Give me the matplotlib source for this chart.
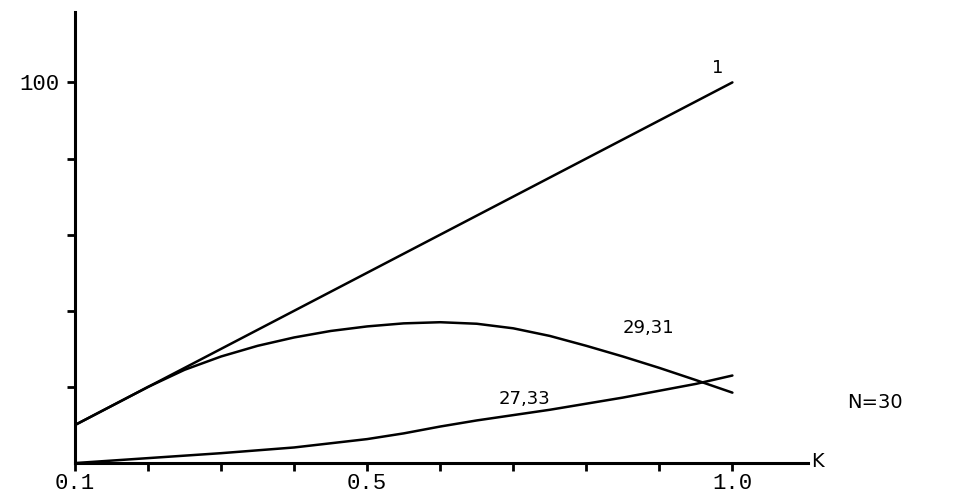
import matplotlib
matplotlib.use("Agg")
import matplotlib.pyplot as plt

# values
k_line1 = [0.1, 1.0]
v_line1 = [10, 100]

k_2931 = [0.1, 0.15, 0.2, 0.25, 0.3, 0.35, 0.4, 0.45, 0.5, 0.55, 0.6, 0.65, 0.7, 0.75, 0.8, 0.85, 0.9, 0.95, 1.0]
v_2931 = [10, 15, 20, 24.5, 28.0, 30.8, 33.0, 34.7, 35.9, 36.7, 37.0, 36.6, 35.4, 33.4, 30.8, 28.0, 25.0, 21.8, 18.5]

k_2733 = [0.1, 0.2, 0.3, 0.4, 0.5, 0.55, 0.6, 0.65, 0.7, 0.75, 0.8, 0.85, 0.9, 0.95, 1.0]
v_2733 = [0, 1.3, 2.6, 4.1, 6.3, 7.8, 9.6, 11.2, 12.6, 14.0, 15.6, 17.2, 19.0, 20.8, 23.0]

ytick_pos = [20, 40, 60, 80, 100]
ytick_lab = ["", "", "", "", "100"]
xtick_pos = [0.1, 0.2, 0.3, 0.4, 0.5, 0.6, 0.7, 0.8, 0.9, 1.0]
xtick_lab = ["0.1", "", "", "", "0.5", "", "", "", "", "1.0"]

mono = "Liberation Mono"
hand = "DejaVu Sans"

fig = plt.figure(figsize=(9.64, 4.99), dpi=100)
ax = fig.add_axes([0.0778, 0.072, 0.76, 0.904])

lw = 1.8
ax.plot(k_line1, v_line1, color="black", lw=lw, solid_capstyle="round")
ax.plot(k_2931, v_2931, color="black", lw=lw, solid_capstyle="round")
ax.plot(k_2733, v_2733, color="black", lw=lw, solid_capstyle="round")

ax.set_xlim(0.1, 1.103)
ax.set_ylim(0, 118.5)

for s in ["top", "right"]:
    ax.spines[s].set_visible(False)
for s in ["left", "bottom"]:
    ax.spines[s].set_linewidth(2.2)

ax.set_yticks(ytick_pos)
ax.set_yticklabels(ytick_lab, fontfamily=mono, fontsize=16)
ax.set_xticks(xtick_pos)
ax.set_xticklabels(xtick_lab, fontfamily=mono, fontsize=16)
ax.tick_params(axis="both", direction="out", length=6, width=2)
ax.tick_params(axis="y", pad=5)
ax.tick_params(axis="x", pad=1)

# curve labels
ax.text(0.98, 101.5, "1", fontsize=13, family=hand, ha="center", va="bottom")
ax.text(0.885, 35.5, "29,31", fontsize=13, family=hand, ha="center", va="center")
ax.text(0.715, 16.8, "27,33", fontsize=13, family=hand, ha="center", va="center")
ax.text(1.195, 16, "N=30", fontsize=14, family=hand, ha="center", va="center", clip_on=False)
ax.text(1.108, 0.5, "K", fontsize=14, family=hand, ha="left", va="center", clip_on=False)

fig.savefig("out.png", dpi=100, facecolor="white")
